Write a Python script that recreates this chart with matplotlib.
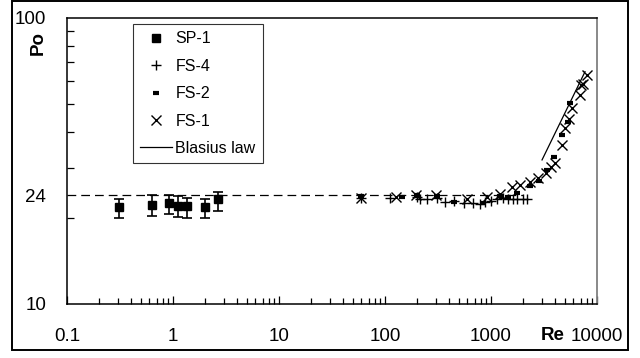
"""
plot.py — Poiseuille number vs Reynolds number (log-log)
"""

import matplotlib
matplotlib.use("Agg")
import matplotlib.pyplot as plt
from matplotlib.patches import Rectangle
from matplotlib.ticker import FixedLocator, NullFormatter

plt.rcParams["font.family"] = ["Liberation Sans", "DejaVu Sans"]

# ── data ─────────────────────────────────────────────────────────────────────

re_sp1 = [0.31, 0.63, 0.92, 1.11, 1.36, 2.0, 2.66]
po_sp1 = [21.9, 22.2, 22.5, 22.1, 22.1, 21.9, 23.2]
err_lo = [1.9, 1.9, 1.9, 1.9, 2.1, 1.9, 2.0]
err_hi = [1.4, 1.8, 1.5, 1.7, 1.4, 1.4, 1.5]

re_fs4 = [60, 112, 200, 215, 250, 310, 370, 450, 560, 680, 780, 870,
          1000, 1150, 1300, 1450, 1600, 1760, 2000, 2200]
po_fs4 = [23.5, 23.4, 23.7, 23.3, 23.3, 23.4, 22.8, 22.9, 22.6, 22.5, 22.3,
          22.7, 23.0, 23.2, 23.4, 23.3, 23.3, 23.3, 23.3, 23.2]

re_fs2 = [60, 144, 200, 310, 450, 840, 1217, 1450, 1770, 2350, 2840,
          3345, 3900, 4700, 5300, 5600]
po_fs2 = [23.8, 23.7, 24.0, 23.9, 22.8, 22.5, 23.9, 23.6, 24.5, 25.8, 26.9,
          29.4, 32.7, 39.0, 43.4, 50.3]

re_fs1 = [60, 127, 196, 300, 590, 910, 1217, 1570, 1880, 2330, 2800, 3300,
          3650, 4020, 4640, 5000, 5500, 5770, 6960, 7100, 7380, 8000]
po_fs1 = [23.5, 23.6, 24.0, 24.0, 23.2, 23.7, 24.2, 25.7, 26.0, 26.8, 27.5,
          28.8, 30.2, 31.0, 36.0, 41.1, 44.2, 48.3, 53.8, 58.3, 59.0, 63.2]

re_blasius = [3030, 7710]
po_blasius = [31.9, 64.9]

re_lam = [0.1, 2000]
po_lam = [24, 24]

x_ticks = [0.1, 1, 10, 100, 1000, 10000]
x_labels = ["0.1", "1", "10", "100", "1000", "10000"]
y_ticks = [10, 24, 100]
y_minor = [20, 30, 40, 50, 60, 70, 80, 90]

# ── figure ───────────────────────────────────────────────────────────────────

fig = plt.figure(figsize=(6.4, 3.58), dpi=100)
ax = fig.add_axes([67 / 640, 54 / 358, 530 / 640, 286 / 358])

ax.plot(re_lam, po_lam, color="black", lw=0.9, ls=(0, (7, 4)))
ax.errorbar(re_sp1, po_sp1, yerr=[err_lo, err_hi], fmt="none",
            ecolor="black", elinewidth=1.2, capsize=3.5, capthick=1.2)
ax.plot(re_sp1, po_sp1, "s", color="black", ms=5.5, label="SP-1")
ax.plot(re_fs4, po_fs4, "+", color="black", ms=7, mew=1.0, label="FS-4")
ax.plot(re_fs2, po_fs2, "_", color="black", ms=4.2, mew=3.0, label="FS-2")
ax.plot(re_fs1, po_fs1, "x", color="black", ms=6.5, mew=1.0, label="FS-1")
ax.plot(re_blasius, po_blasius, color="black", lw=0.9, label="Blasius law")

ax.set_xscale("log")
ax.set_yscale("log")
ax.set_xlim(0.1, 10000)
ax.set_ylim(10, 100)

ax.set_xticks(x_ticks)
ax.set_xticklabels(x_labels)
ax.tick_params(axis="x", which="major", direction="in", length=6,
               width=0.9, labelsize=13.5, pad=17)
ax.tick_params(axis="x", which="minor", direction="in", length=4, width=0.9)

ax.yaxis.set_major_locator(FixedLocator(y_ticks))
ax.set_yticklabels([str(v) for v in y_ticks])
ax.yaxis.set_minor_locator(FixedLocator(y_minor))
ax.yaxis.set_minor_formatter(NullFormatter())
ax.tick_params(axis="y", which="major", length=0, labelsize=13.5, pad=15)
ax.tick_params(axis="y", which="minor", direction="in", length=5, width=0.9)

for side in ["left", "bottom", "top"]:
    ax.spines[side].set_color("black")
    ax.spines[side].set_linewidth(1.1)
ax.spines["right"].set_color("#808080")
ax.spines["right"].set_linewidth(1.3)

leg = ax.legend(loc="upper left", bbox_to_anchor=(0.1245, 0.979),
                borderaxespad=0, fontsize=11.5, frameon=True, fancybox=False,
                edgecolor="black", handlelength=2.0, handletextpad=0.2,
                labelspacing=0.78, borderpad=0.45, numpoints=1)
leg.get_frame().set_linewidth(0.8)

fig.text(38 / 640, 1 - 43 / 358, "Po", rotation=90, ha="center",
         va="center", fontsize=13.5, fontweight="bold")
fig.text(553 / 640, 1 - 336 / 358, "Re", ha="center", va="center",
         fontsize=13.5, fontweight="bold")

# outer frame around the whole chart
fig.patches.append(Rectangle((12 / 640, 8 / 358), 616 / 640, 349 / 358,
                             transform=fig.transFigure, fill=False,
                             edgecolor="black", lw=1.4))

fig.savefig("out.png", dpi=100)
print("Saved: out.png")
